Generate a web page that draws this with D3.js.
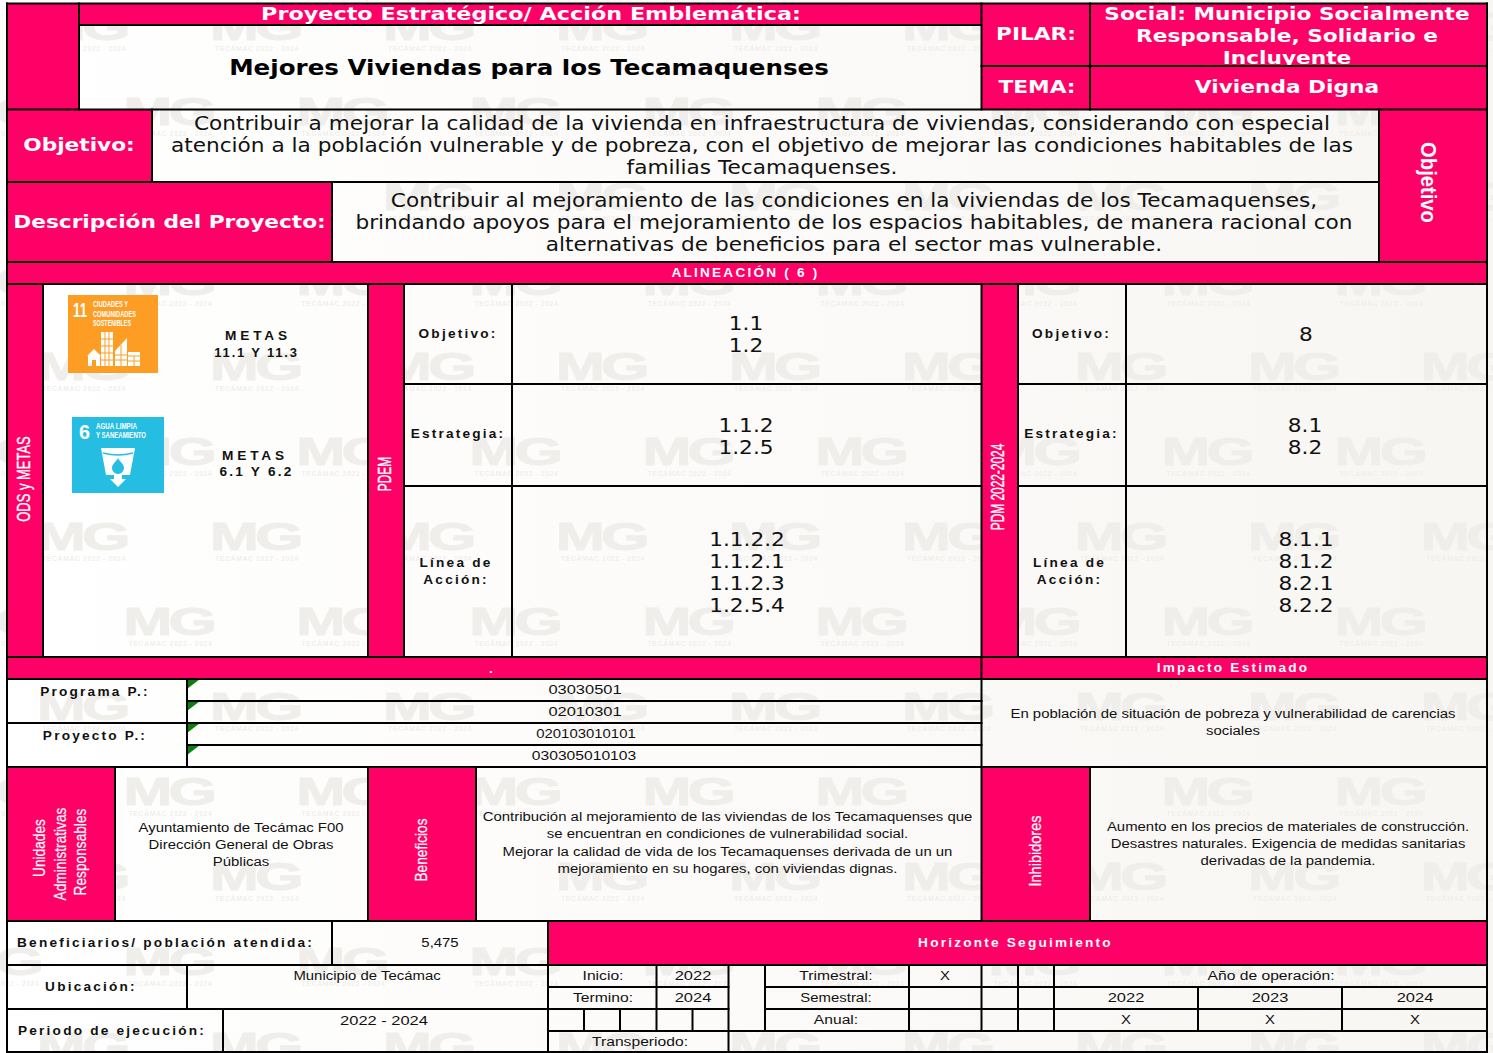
<!DOCTYPE html>
<html>
<head>
<meta charset="utf-8">
<title>Mejores Viviendas para los Tecamaquenses</title>
<script src="https://cdnjs.cloudflare.com/ajax/libs/d3/7.8.5/d3.min.js"></script>
<style>
    html, body { margin: 0; padding: 0; background: #fff; overflow: hidden; }
    svg { display: block; }
</style>
</head>
<body>
<div id="chart"></div>
<script>
// table contents
const proyectoHeader = "Proyecto Estratégico/ Acción Emblemática:";
const proyectoTitle = "Mejores Viviendas para los Tecamaquenses";
const pilarLines = ["Social: Municipio Socialmente", "Responsable, Solidario e", "Incluyente"];
const temaValue = "Vivienda Digna";
const objetivoLines = [
    "Contribuir a mejorar la calidad de la vivienda en infraestructura de viviendas, considerando con especial",
    "atención a la población vulnerable y de pobreza, con el objetivo de mejorar las condiciones habitables de las",
    "familias Tecamaquenses."
];
const descripcionLines = [
    "Contribuir al mejoramiento de las condiciones en la viviendas de los Tecamaquenses,",
    "brindando apoyos para el mejoramiento de los espacios habitables, de manera racional con",
    "alternativas de beneficios para el sector mas vulnerable."
];
const pdemObjetivo = ["1.1", "1.2"];
const pdemEstrategia = ["1.1.2", "1.2.5"];
const pdemLinea = ["1.1.2.2", "1.1.2.1", "1.1.2.3", "1.2.5.4"];
const pdmObjetivo = ["8"];
const pdmEstrategia = ["8.1", "8.2"];
const pdmLinea = ["8.1.1", "8.1.2", "8.2.1", "8.2.2"];
const programaCodes = ["03030501", "02010301"];
const proyectoCodes = ["020103010101", "030305010103"];
const impactoLines = ["En población de situación de pobreza y vulnerabilidad de carencias", "sociales"];
const unidadesLines = ["Ayuntamiento de Tecámac F00", "Dirección General de Obras", "Públicas"];
const beneficiosLines = [
    "Contribución al mejoramiento de las viviendas de los Tecamaquenses que",
    "se encuentran en condiciones de vulnerabilidad social.",
    "Mejorar la calidad de vida de los Tecamaquenses derivada de un un",
    "mejoramiento en su hogares, con viviendas dignas."
];
const inhibidoresLines = [
    "Aumento en los precios de materiales de construcción.",
    "Desastres naturales. Exigencia de medidas sanitarias",
    "derivadas de la pandemia."
];
const operationYears = ["2022", "2023", "2024"];
const operationMarks = ["X", "X", "X"];

const width = 1493;
const height = 1053;
const pink = "#ff0066";

// column and row edges of the sheet
const colNames = ["left", "c79", "c115", "c152", "c187", "c223", "c332", "c368", "c404", "c476", "c512", "c548", "c584", "c620", "c656", "c692", "c728", "c765", "c909", "c981", "c1018", "c1054", "c1090", "c1126", "c1198", "c1342", "c1379", "right", "c43"];
const colEdges = [7, 79, 115, 152, 187, 223, 332, 368, 404, 476, 512, 548, 584, 620, 656.5, 692.5, 728.5, 765, 909, 981.5, 1018, 1054, 1090, 1126, 1198, 1342, 1379, 1487, 43];
const rowNames = ["top", "r25", "r66", "r109", "r182", "r262", "r284", "r384", "r486", "r657", "r679", "r701", "r723", "r745", "r767", "r921", "r965", "r987", "r1009", "r1031", "bottom"];
const rowEdges = [3.5, 25, 66, 109.5, 182, 262, 284, 384, 486, 657, 679, 701, 723, 745, 767, 921, 965, 987, 1009, 1031, 1052];
const x = d3.scaleOrdinal().domain(colNames).range(colEdges);
const y = d3.scaleOrdinal().domain(rowNames).range(rowEdges);

const pinkCells = [
    ["left", "c79", "top", "r109"], ["c79", "c981", "top", "r25"], ["c981", "right", "top", "r109"],
    ["left", "c152", "r109", "r182"], ["c1379", "right", "r109", "r262"], ["left", "c332", "r182", "r262"],
    ["left", "right", "r262", "r284"], ["left", "c43", "r284", "r657"], ["c368", "c404", "r284", "r657"],
    ["c981", "c1018", "r284", "r657"], ["left", "right", "r657", "r679"], ["left", "c115", "r767", "r921"],
    ["c368", "c476", "r767", "r921"], ["c981", "c1090", "r767", "r921"], ["c548", "right", "r921", "r965"]
];
const hLines = [
    ["top", "left", "right"], ["r25", "c79", "c981"], ["r66", "c981", "right"], ["r109", "left", "right"],
    ["r182", "left", "c1379"], ["r262", "left", "right"], ["r284", "left", "right"],
    ["r384", "c404", "c981"], ["r384", "c1018", "right"], ["r486", "c404", "c981"], ["r486", "c1018", "right"],
    ["r657", "left", "right"], ["r679", "left", "right"], ["r701", "c187", "c981"], ["r723", "left", "c981"],
    ["r745", "c187", "c981"], ["r767", "left", "right"], ["r921", "left", "right"], ["r965", "left", "right"],
    ["r987", "c548", "c728"], ["r987", "c765", "right"], ["r1009", "left", "c728"], ["r1009", "c765", "right"],
    ["r1031", "c548", "right"], ["bottom", "left", "right"]
];
const vLines = [
    ["left", "top", "bottom"], ["right", "top", "bottom"], ["c79", "top", "r109"], ["c981", "top", "r109"], ["c1090", "top", "r109"],
    ["c152", "r109", "r182"], ["c1379", "r109", "r262"], ["c332", "r182", "r262"],
    ["c43", "r284", "r657"], ["c368", "r284", "r657"], ["c404", "r284", "r657"], ["c512", "r284", "r657"],
    ["c981", "r284", "r921"], ["c1018", "r284", "r657"], ["c1126", "r284", "r657"], ["c187", "r679", "r767"],
    ["c115", "r767", "r921"], ["c368", "r767", "r921"], ["c476", "r767", "r921"], ["c1090", "r767", "r921"],
    ["c332", "r921", "r965"], ["c548", "r921", "bottom"], ["c187", "r965", "r1009"], ["c223", "r1009", "bottom"],
    ["c584", "r1009", "r1031"], ["c620", "r1009", "r1031"], ["c692", "r1009", "r1031"], ["c656", "r965", "r1031"],
    ["c728", "r965", "bottom"], ["c765", "r965", "r1031"], ["c909", "r965", "r1031"], ["c981", "r965", "r1031"],
    ["c1018", "r965", "r1031"], ["c1054", "r965", "r1031"], ["c1198", "r987", "r1031"], ["c1342", "r987", "r1031"]
];

const svg = d3.select("#chart").append("svg")
    .attr("width", width)
    .attr("height", height);

const defs = svg.append("defs");
const paper = defs.append("linearGradient").attr("id", "paper");
paper.append("stop").attr("offset", "0%").attr("stop-color", "#ffffff");
paper.append("stop").attr("offset", "45%").attr("stop-color", "#fcfbf9");
paper.append("stop").attr("offset", "100%").attr("stop-color", "#f7f6f3");
defs.append("clipPath").attr("id", "pilar-clip").append("rect")
    .attr("x", x("c1090")).attr("y", y("top")).attr("width", x("right") - x("c1090")).attr("height", y("r66") - y("top"));

// faint MG watermark as a repeating tile
const tile = defs.append("pattern").attr("id", "watermark")
    .attr("patternUnits", "userSpaceOnUse")
    .attr("x", 37).attr("y", 12)
    .attr("width", 173).attr("height", 170);
[[0, 0], [86.5, 85], [-86.5, 85]].forEach(([tx, ty]) => {
    const g = tile.append("g").attr("transform", `translate(${tx},${ty})`)
        .attr("fill", "#f0eeeb").attr("stroke", "#f0eeeb");
    g.append("text")
        .attr("transform", "translate(0,28) scale(1.5,1)")
        .style("font", "bold 39px 'Liberation Sans'")
        .attr("stroke-width", 1)
        .text("M");
    g.append("text")
        .attr("transform", "translate(45,28) scale(1.6,1)")
        .style("font", "bold 39px 'Liberation Sans'")
        .attr("stroke-width", 1)
        .text("G");
    g.append("text")
        .attr("x", 47).attr("y", 39)
        .attr("text-anchor", "middle")
        .attr("stroke", "none")
        .style("font", "bold 7px 'Liberation Sans'")
        .style("letter-spacing", "0.5px")
        .text("TECÁMAC 2022 - 2024");
});

svg.append("rect").attr("width", width).attr("height", height).attr("fill", "url(#paper)");
svg.append("rect").attr("width", width).attr("height", height).attr("fill", "url(#watermark)");

svg.append("g").selectAll("rect")
    .data(pinkCells)
    .enter()
    .append("rect")
    .attr("x", d => x(d[0]))
    .attr("y", d => y(d[2]))
    .attr("width", d => x(d[1]) - x(d[0]))
    .attr("height", d => y(d[3]) - y(d[2]))
    .attr("fill", pink);

// little green comment flags in the code cells
svg.append("g").selectAll("path")
    .data(["r679", "r701", "r723", "r745"])
    .enter()
    .append("path")
    .attr("d", d => `M${x("c187")},${y(d)}h13l-13,10z`)
    .attr("fill", "#0a7f0a");

// text helpers
const fonts = {
    headWide: { family: "'DejaVu Sans'", weight: "bold", size: 18, sx: 1.24, spacing: 0 },
    head: { family: "'DejaVu Sans'", weight: "bold", size: 18, sx: 1.205, spacing: 0 },
    title: { family: "'DejaVu Sans'", weight: "bold", size: 22, sx: 1.117, spacing: 0 },
    body: { family: "'DejaVu Sans'", weight: "normal", size: 19, sx: 1.139, spacing: 0 },
    num: { family: "'DejaVu Sans'", weight: "normal", size: 19, sx: 1.14, spacing: 0 },
    label: { family: "'Liberation Sans'", weight: "bold", size: 13, sx: 1.05, spacing: 2.1 },
    labelTight: { family: "'Liberation Sans'", weight: "bold", size: 13, sx: 1, spacing: 1.8 },
    labelWide: { family: "'Liberation Sans'", weight: "bold", size: 13, sx: 1.05, spacing: 3.7 },
    small: { family: "'Liberation Sans'", weight: "normal", size: 13.5, sx: 1.105, spacing: 0 },
    cell: { family: "'Liberation Sans'", weight: "normal", size: 13.5, sx: 1.16, spacing: 0 },
    digits: { family: "'Liberation Sans'", weight: "normal", size: 13.5, sx: 1.22, spacing: 0 },
    side: { family: "'Liberation Sans'", weight: "normal", size: 18, sx: 0.72, spacing: 0, stroke: 0.35 },
    sideTight: { family: "'Liberation Sans'", weight: "normal", size: 18, sx: 0.66, spacing: 0, stroke: 0.35 },
    sideBold: { family: "'Liberation Sans'", weight: "bold", size: 22, sx: 0.92, spacing: 0 },
    sideSmall: { family: "'Liberation Sans'", weight: "normal", size: 16.5, sx: 0.83, spacing: 0, stroke: 0.2 },
    sideWide: { family: "'Liberation Sans'", weight: "normal", size: 16.5, sx: 0.88, spacing: 0, stroke: 0.2 }
};

function put(parent, str, cx, base, fontKey, fill, rotate) {
    const f = fonts[fontKey];
    const rot = rotate ? ` rotate(${rotate})` : "";
    const color = fill || "#111";
    return parent.append("text")
        .attr("transform", `translate(${cx},${base})${rot} scale(${f.sx},1)`)
        .attr("text-anchor", "middle")
        .attr("dy", rotate ? "0.36em" : null)
        .style("font-family", f.family)
        .style("font-weight", f.weight)
        .style("font-size", `${f.size}px`)
        .style("letter-spacing", `${f.spacing}px`)
        .attr("fill", color)
        .attr("stroke", f.stroke ? color : null)
        .attr("stroke-width", f.stroke || null)
        .text(str);
}

function block(parent, lines, cx, firstBase, step, fontKey, fill) {
    lines.forEach((line, i) => put(parent, line, cx, firstBase + i * step, fontKey, fill));
}

const texts = svg.append("g");
put(texts, proyectoHeader, 531, 20, "headWide", "#fff");
put(texts, proyectoTitle, 529, 75, "title", "#000");
put(texts, "PILAR:", 1036, 40, "head", "#fff");
put(texts, "TEMA:", 1037, 93, "head", "#fff");
block(texts.append("g").attr("clip-path", "url(#pilar-clip)"), pilarLines, 1287, 20, 22, "head", "#fff");
put(texts, temaValue, 1287, 93, "head", "#fff");
put(texts, "Objetivo:", 79, 151, "head", "#fff");
block(texts, objetivoLines, 762, 130, 22, "body");
put(texts, "Descripción del Proyecto:", 169.5, 228, "head", "#fff");
block(texts, descripcionLines, 854, 207, 22, "body");
put(texts, "Objetivo", 1429, 182.5, "sideBold", "#fff", 90);
put(texts, "ALINEACIÓN ( 6 )", 745.5, 277, "label", "#fff");

put(texts, "ODS y METAS", 24, 479, "side", "#fff", -90);
put(texts, "PDEM", 385, 474, "sideTight", "#fff", -90);
put(texts, "PDM 2022-2024", 998, 487, "sideTight", "#fff", -90);

put(texts, "METAS", 258, 340, "labelWide");
put(texts, "11.1 Y  11.3", 256.5, 357, "labelTight");
put(texts, "METAS", 255, 460, "labelWide");
put(texts, "6.1 Y  6.2", 256.5, 476, "label");

put(texts, "Objetivo:", 458, 338, "label");
put(texts, "Estrategia:", 458, 438, "label");
block(texts, ["Línea de", "Acción:"], 456, 567, 17, "label");
block(texts, pdemObjetivo, 746, 330, 22, "num");
block(texts, pdemEstrategia, 746, 432, 22, "num");
block(texts, pdemLinea, 747, 546, 22, "num");

put(texts, "Objetivo:", 1071.5, 338, "label");
put(texts, "Estrategia:", 1071.5, 438, "label");
block(texts, ["Línea de", "Acción:"], 1069.5, 567, 17, "label");
block(texts, pdmObjetivo, 1306, 341, 22, "num");
block(texts, pdmEstrategia, 1305, 432, 22, "num");
block(texts, pdmLinea, 1306, 546, 22, "num");

put(texts, ".", 492, 673, "label", "#fff");
put(texts, "Impacto Estimado", 1233, 672, "label", "#fff");
put(texts, "Programa P.:", 95, 696, "label");
put(texts, "Proyecto P.:", 95, 740, "label");
block(texts, programaCodes, 585, 694, 22, "digits");
put(texts, proyectoCodes[0], 586, 738, "small");
put(texts, proyectoCodes[1], 584, 760, "cell");
block(texts, impactoLines, 1233, 718, 17, "small");

["Unidades", "Administrativas", "Responsables"].forEach((s, i) => {
    put(texts, s, [39, 60, 80][i], [848, 854, 852][i], "sideSmall", "#fff", -90);
});
put(texts, "Beneficios", 421, 850, "sideSmall", "#fff", -90);
put(texts, "Inhibidores", 1035, 851, "sideWide", "#fff", -90);
block(texts, unidadesLines, 241, 832, 17, "small");
block(texts, beneficiosLines, 727.5, 821, 17.3, "small");
block(texts, inhibidoresLines, 1288, 831, 17, "small");

put(texts, "Beneficiarios/ población atendida:", 165.5, 947, "label");
put(texts, "5,475", 440, 947, "small");
put(texts, "Horizonte Seguimiento", 1015.5, 947, "label", "#fff");
put(texts, "Ubicación:", 91, 991, "label");
put(texts, "Municipio de Tecámac", 367, 980, "small");
put(texts, "Periodo de ejecución:", 112, 1035, "label");
put(texts, "2022 - 2024", 384, 1025, "digits");
put(texts, "Inicio:", 603, 980, "cell");
put(texts, "2022", 693, 980, "digits");
put(texts, "Termino:", 603, 1002, "cell");
put(texts, "2024", 693, 1002, "digits");
put(texts, "Transperiodo:", 640, 1046, "cell");
put(texts, "Trimestral:", 836, 980, "cell");
put(texts, "X", 945, 980, "small");
put(texts, "Semestral:", 836, 1002, "small");
put(texts, "Anual:", 836, 1024, "cell");
put(texts, "Año de operación:", 1271, 980, "cell");
operationYears.forEach((yr, i) => put(texts, yr, [1126, 1270, 1415][i], 1002, "digits"));
operationMarks.forEach((m, i) => put(texts, m, [1126, 1270, 1415][i], 1024, "small"));

// grid lines on top of the fills
const grid = svg.append("g").attr("stroke", "#000").attr("stroke-width", 2);
grid.selectAll(".h").data(hLines).enter().append("line")
    .attr("x1", d => x(d[1]) - 1).attr("x2", d => x(d[2]) + 1)
    .attr("y1", d => y(d[0])).attr("y2", d => y(d[0]));
grid.selectAll(".v").data(vLines).enter().append("line")
    .attr("x1", d => x(d[0])).attr("x2", d => x(d[0]))
    .attr("y1", d => y(d[1]) - 1).attr("y2", d => y(d[2]) + 1);

// SDG 11 tile
const sdg11 = svg.append("g").attr("transform", "translate(68,295)");
sdg11.append("rect").attr("width", 90).attr("height", 78).attr("fill", "#fd9d24");
sdg11.append("text").attr("x", 5).attr("y", 22).attr("fill", "#fff")
    .style("font", "bold 21px 'Liberation Sans'").attr("textLength", 14).attr("lengthAdjust", "spacingAndGlyphs").text("11");
["CIUDADES Y", "COMUNIDADES", "SOSTENIBLES"].forEach((s, i) => {
    sdg11.append("text").attr("x", 25).attr("y", 12 + i * 9.5).attr("fill", "#fff")
        .style("font", "bold 8.5px 'Liberation Sans'").attr("textLength", [35, 43, 38][i]).attr("lengthAdjust", "spacingAndGlyphs").text(s);
});
sdg11.append("path").attr("fill", "#fff")
    .attr("d", "M20,71V61H19L26,54L33,61H32V71H28V65H24V71Z M33,37H45V71H33Z M47,71V56L59,43V71Z M60,57H72V71H60Z");
sdg11.append("path").attr("stroke", "#fd9d24").attr("stroke-width", 1).attr("fill", "none")
    .attr("d", "M33,44H45 M33,51H45 M33,58H45 M33,65H45 M37,37V71 M41,37V71 M47,60H59 M47,65H59 M53,50V71 M60,61H72 M60,66H72 M66,61V71");

// SDG 6 tile
const sdg6 = svg.append("g").attr("transform", "translate(72,417)");
sdg6.append("rect").attr("width", 92).attr("height", 76).attr("fill", "#26bde2");
sdg6.append("text").attr("x", 7).attr("y", 22).attr("fill", "#fff")
    .style("font", "bold 21px 'Liberation Sans'").attr("textLength", 11).attr("lengthAdjust", "spacingAndGlyphs").text("6");
["AGUA LIMPIA", "Y SANEAMIENTO"].forEach((s, i) => {
    sdg6.append("text").attr("x", 24).attr("y", 12 + i * 9).attr("fill", "#fff")
        .style("font", "bold 8.5px 'Liberation Sans'").attr("textLength", [41, 50][i]).attr("lengthAdjust", "spacingAndGlyphs").text(s);
});
sdg6.append("path").attr("fill", "#fff")
    .attr("d", "M29,31H63L58,58H50V62H54L46,70L38,62H42V58H34Z");
sdg6.append("path").attr("fill", "none").attr("stroke", "#26bde2").attr("stroke-width", 1.5).attr("d", "M31,36Q46,40 61,36");
sdg6.append("path").attr("fill", "#26bde2").attr("d", "M46,41C44,45 40,47 40,51A6,6 0 0 0 52,51C52,47 48,45 46,41Z");
</script>
</body>
</html>
